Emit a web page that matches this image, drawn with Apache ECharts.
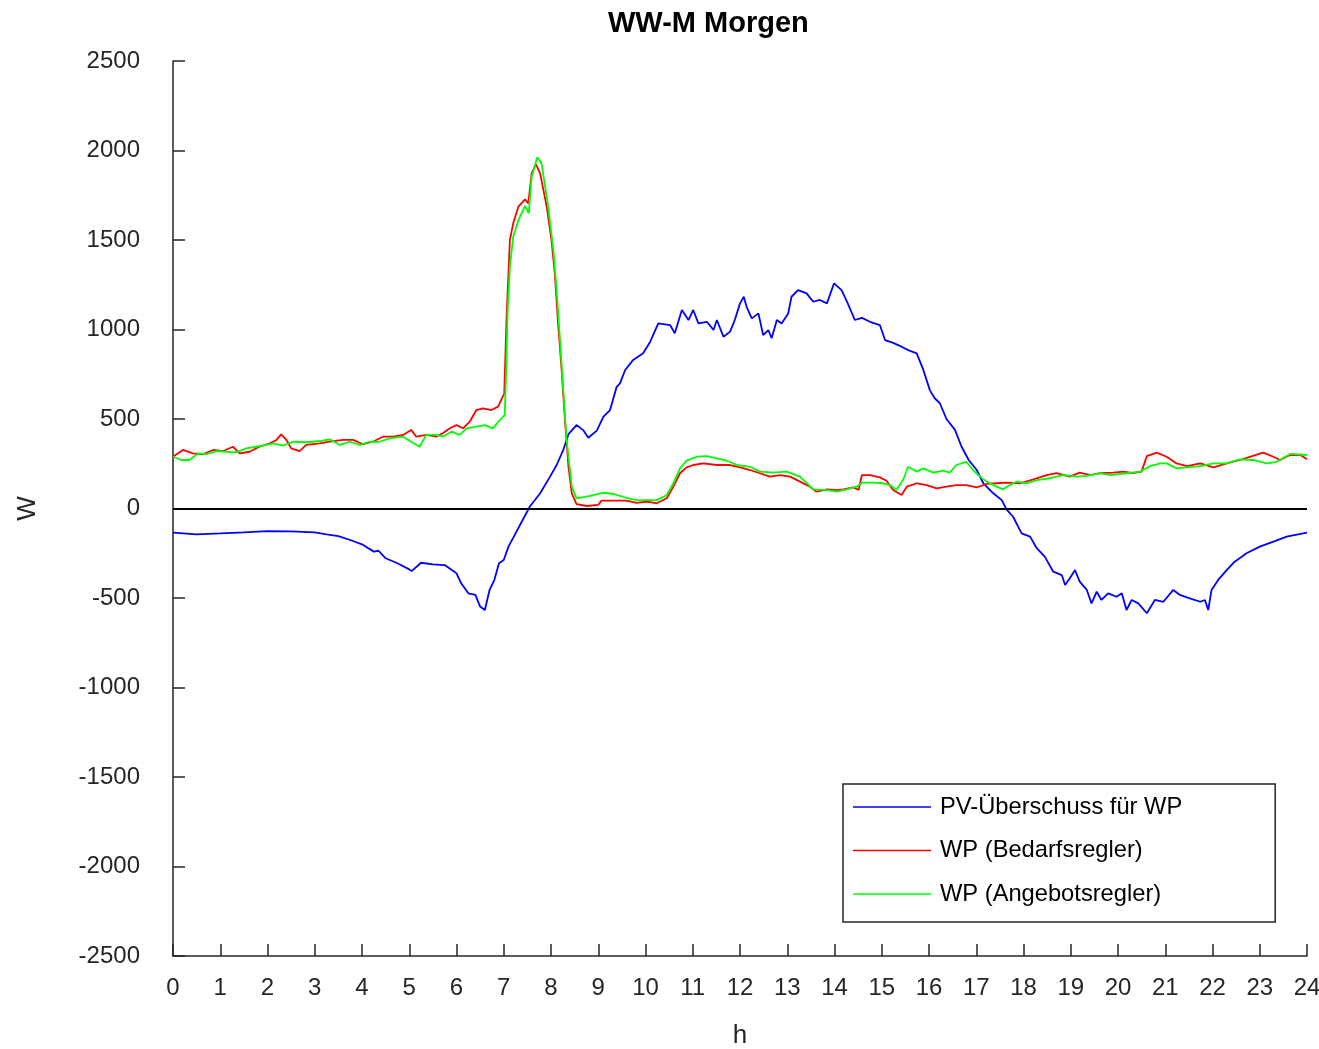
<!DOCTYPE html>
<html>
<head>
<meta charset="utf-8">
<title>WW-M Morgen</title>
<script src="https://cdn.jsdelivr.net/npm/echarts@6/dist/echarts.min.js"></script>
<style>
  html, body { margin: 0; padding: 0; background: #ffffff; }
  #chart { width: 1319px; height: 1049px; }
</style>
</head>
<body>
<div id="chart"></div>
<script>
// Tick labels on the axes
const hourTicks = [0, 1, 2, 3, 4, 5, 6, 7, 8, 9, 10, 11, 12, 13, 14, 15, 16, 17, 18, 19, 20, 21, 22, 23, 24];
const wattTicks = [-2500, -2000, -1500, -1000, -500, 0, 500, 1000, 1500, 2000, 2500];

// PV-Überschuss für WP (hour, W)
const pvHours = [0, 0.5, 1, 1.5, 2, 2.5, 3, 3.25, 3.5, 3.75, 4, 4.25, 4.35, 4.5, 4.75, 5, 5.05, 5.25, 5.5, 5.75,
  6, 6.1, 6.25, 6.4, 6.5, 6.6, 6.7, 6.8, 6.9, 7, 7.1, 7.25, 7.4, 7.55, 7.77, 7.98, 8.12, 8.26, 8.37, 8.54,
  8.68, 8.79, 8.97, 9.11, 9.25, 9.39, 9.46, 9.57, 9.74, 9.95, 10.1, 10.27, 10.52, 10.62, 10.77, 10.91, 11.01, 11.12, 11.3, 11.44,
  11.51, 11.65, 11.79, 11.89, 12.0, 12.08, 12.14, 12.25, 12.39, 12.49, 12.6, 12.67, 12.78, 12.88, 13.02, 13.09, 13.23, 13.41, 13.55, 13.69,
  13.84, 13.99, 14.15, 14.29, 14.43, 14.58, 14.75, 14.96, 15.07, 15.24, 15.42, 15.56, 15.74, 15.88, 16.02, 16.12, 16.23, 16.37, 16.55, 16.69,
  16.84, 17.01, 17.15, 17.36, 17.54, 17.64, 17.78, 17.96, 18.14, 18.28, 18.45, 18.63, 18.81, 18.88, 18.98, 19.09, 19.19, 19.34, 19.44, 19.55,
  19.65, 19.79, 19.97, 20.08, 20.18, 20.29, 20.43, 20.61, 20.78, 20.96, 21.17, 21.31, 21.52, 21.74, 21.84, 21.91, 21.98, 22.12, 22.3, 22.47,
  22.72, 23.0, 23.29, 23.57, 24];
const pvWatts = [-135, -144, -139, -133, -126, -128, -133, -144, -154, -176, -200, -241, -236, -278, -306, -340, -350, -303, -312, -316,
  -362, -418, -474, -483, -548, -567, -455, -400, -306, -288, -213, -139, -64, 10, 85, 178, 243, 327, 415, 466,
  438, 395, 435, 513, 550, 680, 699, 774, 830, 867, 932, 1034, 1025, 979, 1109, 1053, 1109, 1034, 1043, 997,
  1053, 960, 988, 1053, 1146, 1183, 1127, 1062, 1090, 969, 997, 951, 1053, 1034, 1090, 1183, 1220, 1202, 1155, 1165,
  1146, 1258, 1220, 1140, 1053, 1065, 1043, 1025, 941, 925, 904, 885, 867, 774, 660, 616, 588, 500, 439, 345,
  271, 215, 141, 85, 47, -5, -46, -139, -157, -222, -269, -353, -372, -427, -390, -344, -409, -455, -530, -465,
  -511, -474, -493, -474, -567, -511, -530, -585, -511, -521, -455, -483, -502, -521, -511, -567, -455, -399, -344, -297,
  -250, -213, -185, -157, -135];

// WP (Bedarfsregler) (hour, W)
const bedarfHours = [0, 0.21, 0.42, 0.63, 0.85, 1.06, 1.27, 1.41, 1.62, 1.83, 2.05, 2.19, 2.29, 2.4, 2.5, 2.68, 2.82, 3.1, 3.32, 3.6,
  3.81, 4.02, 4.23, 4.44, 4.66, 4.87, 5.04, 5.15, 5.36, 5.57, 5.71, 5.86, 6.0, 6.14, 6.28, 6.42, 6.56, 6.74, 6.88, 6.98,
  7.01, 7.06, 7.1, 7.13, 7.2, 7.31, 7.45, 7.52, 7.59, 7.68, 7.77, 7.91, 8.01, 8.08, 8.15, 8.23, 8.3, 8.37, 8.44, 8.54,
  8.76, 9.0, 9.07, 9.32, 9.6, 9.81, 10.03, 10.24, 10.45, 10.59, 10.73, 10.87, 11.01, 11.22, 11.51, 11.79, 12.0, 12.21, 12.42, 12.63,
  12.85, 13.06, 13.27, 13.48, 13.62, 13.84, 14.05, 14.19, 14.4, 14.51, 14.58, 14.75, 14.96, 15.1, 15.24, 15.42, 15.53, 15.74, 15.95, 16.16,
  16.37, 16.58, 16.79, 17.01, 17.22, 17.43, 17.64, 17.93, 18.21, 18.49, 18.7, 18.98, 19.19, 19.41, 19.62, 19.9, 20.11, 20.32, 20.5, 20.61,
  20.82, 21.03, 21.24, 21.46, 21.74, 22.02, 22.3, 22.58, 22.79, 23.07, 23.29, 23.43, 23.64, 23.86, 24];
const bedarfWatts = [289, 327, 308, 303, 327, 321, 345, 308, 317, 345, 364, 383, 414, 383, 336, 321, 355, 364, 373, 383,
  383, 359, 373, 401, 401, 411, 439, 401, 411, 401, 420, 448, 466, 448, 485, 550, 560, 550, 569, 625,
  640, 1071, 1314, 1500, 1593, 1686, 1727, 1705, 1872, 1924, 1872, 1686, 1500, 1314, 1034, 755, 476, 233, 85, 25,
  14, 20, 44, 44, 44, 32, 38, 29, 57, 122, 197, 230, 243, 252, 243, 243, 230, 215, 197, 178,
  187, 178, 150, 122, 94, 107, 103, 107, 118, 103, 187, 187, 174, 155, 103, 75, 122, 141, 131, 113,
  122, 131, 131, 118, 137, 141, 144, 141, 163, 187, 197, 178, 200, 187, 197, 200, 206, 197, 206, 293,
  312, 289, 252, 237, 252, 230, 252, 271, 289, 312, 289, 271, 299, 299, 275];

// WP (Angebotsregler) (hour, W)
const angebotHours = [0, 0.18, 0.35, 0.53, 0.7, 0.92, 1.13, 1.34, 1.55, 1.76, 1.97, 2.12, 2.33, 2.54, 2.82, 3.1, 3.32, 3.53, 3.74, 3.95,
  4.16, 4.37, 4.59, 4.87, 5.04, 5.22, 5.36, 5.57, 5.71, 5.89, 6.07, 6.21, 6.42, 6.6, 6.77, 6.95, 7.02, 7.05, 7.08, 7.13,
  7.2, 7.31, 7.45, 7.53, 7.59, 7.71, 7.8, 7.94, 8.05, 8.12, 8.19, 8.26, 8.33, 8.44, 8.54, 8.83, 9.11, 9.32, 9.6, 9.81,
  10.03, 10.24, 10.45, 10.59, 10.73, 10.87, 11.08, 11.3, 11.51, 11.72, 11.93, 12.21, 12.42, 12.7, 12.99, 13.27, 13.55, 13.84, 14.05, 14.26,
  14.47, 14.58, 14.82, 15.03, 15.17, 15.31, 15.45, 15.56, 15.74, 15.88, 16.09, 16.3, 16.44, 16.58, 16.79, 16.93, 17.08, 17.22, 17.43, 17.57,
  17.71, 17.86, 18.07, 18.28, 18.56, 18.84, 19.13, 19.34, 19.62, 19.83, 20.18, 20.47, 20.68, 20.89, 21.03, 21.24, 21.46, 21.74, 22.02, 22.3,
  22.58, 22.86, 23.15, 23.36, 23.64, 24];
const angebotWatts = [289, 271, 271, 308, 303, 321, 317, 314, 336, 345, 355, 364, 351, 373, 370, 377, 386, 355, 373, 355,
  373, 373, 392, 401, 373, 345, 411, 411, 401, 429, 411, 448, 457, 466, 448, 504, 522, 755, 1090, 1351,
  1518, 1611, 1690, 1649, 1853, 1962, 1928, 1686, 1444, 1221, 941, 662, 383, 122, 57, 70, 88, 81, 60, 47,
  47, 47, 75, 141, 224, 267, 289, 293, 280, 267, 243, 233, 206, 200, 206, 178, 107, 103, 94, 107,
  122, 144, 144, 141, 131, 103, 159, 233, 206, 224, 200, 211, 200, 243, 261, 215, 178, 150, 122, 107,
  131, 150, 141, 159, 169, 187, 178, 182, 197, 187, 197, 206, 237, 252, 252, 224, 230, 237, 252, 252,
  275, 271, 252, 261, 305, 299];

const seriesNames = ['PV-Überschuss für WP', 'WP (Bedarfsregler)', 'WP (Angebotsregler)'];

const zip = (xs, ys) => xs.map((x, i) => [x, ys[i]]);

const FONT = '"Liberation Sans", Arial, Helvetica, sans-serif';
const AXIS_COLOR = '#262626';

const chart = echarts.init(document.getElementById('chart'), null, { renderer: 'canvas' });

const lineSeries = (name, data, color) => ({
  name: name,
  type: 'line',
  data: data,
  showSymbol: false,
  symbol: 'none',
  smooth: false,
  lineStyle: { color: color, width: 1.8 },
  itemStyle: { color: color },
  emphasis: { disabled: true },
  z: 3
});

const pv = lineSeries(seriesNames[0], zip(pvHours, pvWatts), '#0000ff');
// horizontal zero reference line
pv.markLine = {
  silent: true,
  symbol: ['none', 'none'],
  label: { show: false },
  lineStyle: { color: '#000000', type: 'solid', width: 1.8 },
  data: [{ yAxis: 0 }]
};

chart.setOption({
  animation: false,
  backgroundColor: '#ffffff',
  textStyle: { fontFamily: FONT },
  title: {
    text: 'WW-M Morgen',
    left: 603,
    top: 4,
    textStyle: { fontFamily: FONT, fontSize: 29, fontWeight: 'bold', color: '#000000' }
  },
  grid: { left: 173, right: 12, top: 61, bottom: 93, containLabel: false, outerBoundsMode: 'none' },
  xAxis: {
    type: 'value',
    min: hourTicks[0],
    max: hourTicks[hourTicks.length - 1],
    interval: 1,
    name: 'h',
    nameLocation: 'middle',
    nameGap: 67,
    nameTextStyle: { fontFamily: FONT, fontSize: 26, color: AXIS_COLOR },
    axisLine: { show: true, onZero: false, lineStyle: { color: AXIS_COLOR, width: 1.5 } },
    axisTick: { show: true, inside: true, length: 12, lineStyle: { color: AXIS_COLOR, width: 1.5 } },
    axisLabel: {
      margin: 20,
      fontFamily: FONT,
      fontSize: 24,
      color: AXIS_COLOR,
      formatter: (v) => hourTicks.includes(v) ? String(v) : ''
    },
    splitLine: { show: false }
  },
  yAxis: {
    type: 'value',
    min: wattTicks[0],
    max: wattTicks[wattTicks.length - 1],
    interval: 500,
    name: 'W',
    nameLocation: 'middle',
    nameGap: 132,
    nameRotate: 90,
    nameTextStyle: { fontFamily: FONT, fontSize: 26, color: AXIS_COLOR },
    axisLine: { show: true, onZero: false, lineStyle: { color: AXIS_COLOR, width: 1.5 } },
    axisTick: { show: true, inside: true, length: 12, lineStyle: { color: AXIS_COLOR, width: 1.5 } },
    axisLabel: {
      margin: 33,
      fontFamily: FONT,
      fontSize: 24,
      color: AXIS_COLOR,
      formatter: (v) => wattTicks.includes(v) ? String(v) : ''
    },
    splitLine: { show: false }
  },
  legend: {
    show: true,
    orient: 'vertical',
    left: 843,
    top: 784,
    data: seriesNames.map((n) => ({ name: n, icon: 'rect' })),
    itemWidth: 78,
    itemHeight: 1.5,
    itemGap: 19.5,
    padding: [11, 93, 16, 10],
    backgroundColor: '#ffffff',
    borderColor: AXIS_COLOR,
    borderWidth: 1.5,
    borderRadius: 0,
    selectedMode: false,
    itemStyle: { borderWidth: 0 },
    lineStyle: { width: 0 },
    textStyle: { fontFamily: FONT, fontSize: 23.7, lineHeight: 24, color: '#000000', padding: [0, 0, 0, 4] }
  },
  series: [
    pv,
    lineSeries(seriesNames[1], zip(bedarfHours, bedarfWatts), '#ff0000'),
    lineSeries(seriesNames[2], zip(angebotHours, angebotWatts), '#00ff00')
  ]
});
</script>
</body>
</html>
